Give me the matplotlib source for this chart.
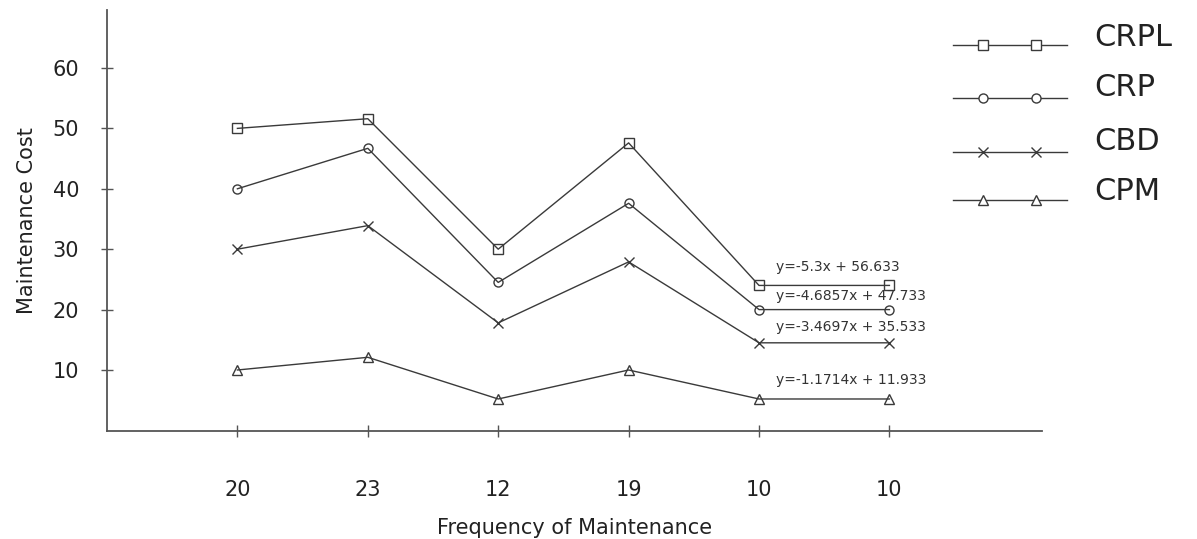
import numpy as np
import matplotlib.pyplot as plt
from matplotlib.lines import Line2D

# ---- data ----
freq_labels = ["20", "23", "12", "19", "10", "10"]
crpl = [50, 51.6, 30, 47.6, 24, 24]
crp = [40, 46.7, 24.5, 37.6, 20, 20]
cbd = [30, 33.9, 17.8, 27.9, 14.5, 14.5]
cpm = [10, 12.1, 5.2, 10, 5.2, 5.2]

series_names = ["CRPL", "CRP", "CBD", "CPM"]
trend_text = ["y=-5.3x + 56.633", "y=-4.6857x + 47.733",
              "y=-3.4697x + 35.533", "y=-1.1714x + 11.933"]
trend_y = [27.0, 22.2, 17.1, 8.3]

MARKERS = ["s", "o", "x", "^"]
LINE_COL = "#3a3a3a"
AXIS_COL = "#555555"
W, H = 1197, 539

plt.rcParams['font.family'] = ['DejaVu Sans']

fig = plt.figure(figsize=(W / 100, H / 100), dpi=100)
ax = fig.add_axes([107 / W, 1 - 431 / H, (1042 - 107) / W, (431 - 10) / H])

x = np.arange(len(freq_labels))
for vals, mk in zip([crpl, crp, cbd, cpm], MARKERS):
    ax.plot(x, vals, color=LINE_COL, lw=1.0, marker=mk, markersize=6.5 if mk != "x" else 7,
            markerfacecolor="none", markeredgecolor=LINE_COL, markeredgewidth=1.0)

for txt, ty in zip(trend_text, trend_y):
    ax.text(4.13, ty, txt, fontsize=10, color="#333333", ha="left", va="center")

ax.set_xlim(-1, 6.17)
ax.set_ylim(-0.1, 69.6)
ax.set_xticks(x)
ax.set_xticklabels(freq_labels)
ax.set_yticks([10, 20, 30, 40, 50, 60])

for s in ["top", "right"]:
    ax.spines[s].set_visible(False)
for s in ["left", "bottom"]:
    ax.spines[s].set_color(AXIS_COL)
    ax.spines[s].set_linewidth(1.3)

ax.tick_params(axis="both", direction="inout", length=8, width=1, color=AXIS_COL,
               labelsize=15, labelcolor="#222222")
ax.tick_params(axis="y", pad=16)
ax.tick_params(axis="x", pad=31)

ax.set_xlabel("Frequency of Maintenance", fontsize=15, color="#222222", labelpad=13)
ax.set_ylabel("Maintenance Cost", fontsize=15, color="#222222", labelpad=11)

# legend drawn by hand: long line with two markers inset, big label to the right
leg_line_y = [45, 98, 152, 200]
leg_text_y = [37, 88, 142, 192]
for name, mk, ly, ty in zip(series_names, MARKERS, leg_line_y, leg_text_y):
    fy = 1 - ly / H
    fig.add_artist(Line2D([953 / W, 1067 / W], [fy, fy], transform=fig.transFigure,
                          color=LINE_COL, lw=1.0))
    fig.add_artist(Line2D([983 / W, 1036 / W], [fy, fy], transform=fig.transFigure,
                          ls="none", marker=mk, markersize=6.5 if mk != "x" else 7,
                          markerfacecolor="white" if mk != "x" else "none",
                          markeredgecolor=LINE_COL, markeredgewidth=1.0))
    fig.text(1094 / W, 1 - ty / H, name, fontsize=22, color="#222222",
             ha="left", va="center")

fig.savefig("out.png", dpi=100, facecolor="white")
